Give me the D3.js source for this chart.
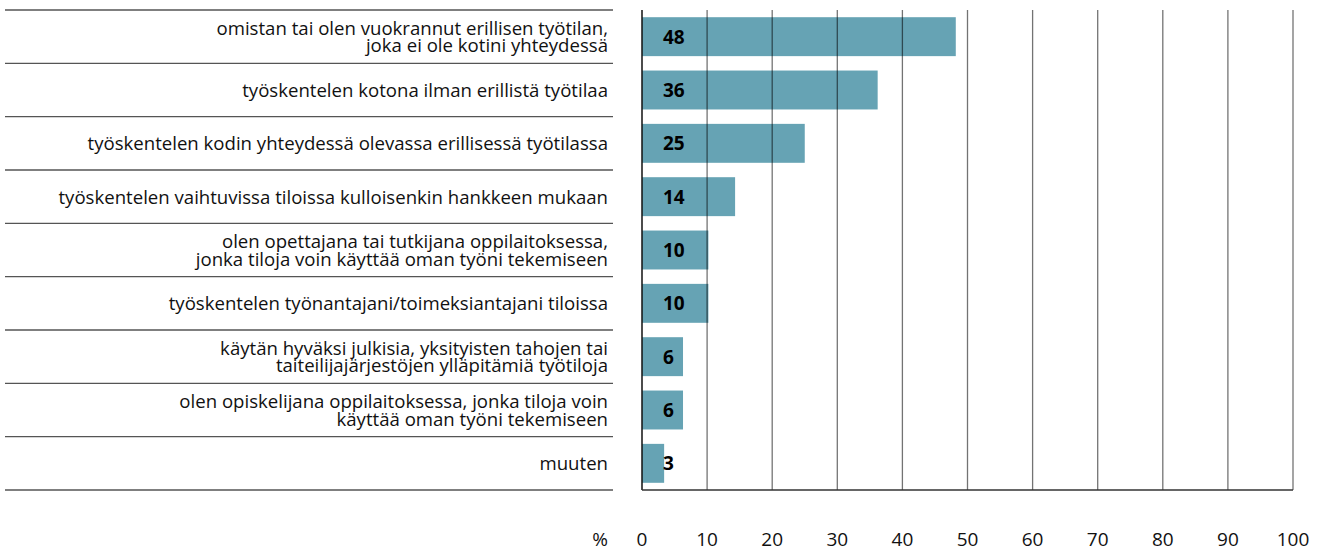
<!DOCTYPE html>
<html>
<head>
<meta charset="utf-8">
<script src="https://cdn.jsdelivr.net/npm/d3@7"></script>
<style>
  body { margin: 0; background: #fff; }
  svg { display: block; font-family: "Open Sans", sans-serif; }
</style>
</head>
<body>
<svg id="chart"></svg>
<script>
// Data
const categories = [
    ['omistan tai olen vuokrannut erillisen työtilan,', 'joka ei ole kotini yhteydessä'],
    ['työskentelen kotona ilman erillistä työtilaa'],
    ['työskentelen kodin yhteydessä olevassa erillisessä työtilassa'],
    ['työskentelen vaihtuvissa tiloissa kulloisenkin hankkeen mukaan'],
    ['olen opettajana tai tutkijana oppilaitoksessa,', 'jonka tiloja voin käyttää oman työni tekemiseen'],
    ['työskentelen työnantajani/toimeksiantajani tiloissa'],
    ['käytän hyväksi julkisia, yksityisten tahojen tai', 'taiteilijajärjestöjen ylläpitämiä työtiloja'],
    ['olen opiskelijana oppilaitoksessa, jonka tiloja voin', 'käyttää oman työni tekemiseen'],
    ['muuten']
];
const values = [48.2, 36.2, 25.0, 14.3, 10.2, 10.2, 6.3, 6.3, 3.4];
const valueLabels = ['48', '36', '25', '14', '10', '10', '6', '6', '3'];
const ticks = [0, 10, 20, 30, 40, 50, 60, 70, 80, 90, 100];

const width = 1326, height = 551;
const svg = d3.select('#chart')
    .attr('width', width)
    .attr('height', height);

const x = d3.scaleLinear()
    .domain([0, 100])
    .range([642, 1293]);

const y = d3.scaleBand()
    .domain(d3.range(categories.length))
    .range([10, 490])
    .paddingInner(0.27)
    .paddingOuter(0.135);

const rowH = (490 - 10) / categories.length;

// Row separators on the label side
svg.append('g')
    .selectAll('line')
    .data(d3.range(categories.length + 1))
    .enter().append('line')
    .attr('x1', 5)
    .attr('x2', 613)
    .attr('y1', i => 10 + i * rowH)
    .attr('y2', i => 10 + i * rowH)
    .attr('stroke', '#555')
    .attr('stroke-width', 1.3);

// Bars
svg.append('g')
    .selectAll('rect')
    .data(values)
    .enter().append('rect')
    .attr('x', x(0))
    .attr('y', (d, i) => y(i))
    .attr('width', d => x(d) - x(0))
    .attr('height', y.bandwidth())
    .attr('fill', '#66a3b4');

// Grid lines drawn over the bars
svg.append('g')
    .selectAll('line')
    .data(ticks.slice(1))
    .enter().append('line')
    .attr('x1', d => x(d))
    .attr('x2', d => x(d))
    .attr('y1', 10)
    .attr('y2', 490)
    .attr('stroke', '#000')
    .attr('stroke-opacity', 0.55)
    .attr('stroke-width', 1.3);

// Axis lines
svg.append('line')
    .attr('x1', x(0)).attr('x2', x(0))
    .attr('y1', 10).attr('y2', 490)
    .attr('stroke', '#111')
    .attr('stroke-width', 1.5);

svg.append('line')
    .attr('x1', x(0)).attr('x2', x(100))
    .attr('y1', 490).attr('y2', 490)
    .attr('stroke', '#333')
    .attr('stroke-width', 1.5);

// Category labels
const labels = svg.append('g')
    .selectAll('text')
    .data(categories)
    .enter().append('text')
    .attr('text-anchor', 'end')
    .style('font-size', '18.6px')
    .style('fill', '#111');

labels.each(function(lines, i) {
    const cy = y(i) + y.bandwidth() / 2;
    const lh = 17.5;
    lines.forEach((line, j) => {
        d3.select(this).append('tspan')
            .attr('x', 608)
            .attr('y', cy + 7 + (j - (lines.length - 1) / 2) * lh)
            .text(line);
    });
});

// Value labels
svg.append('g')
    .selectAll('text')
    .data(valueLabels)
    .enter().append('text')
    .attr('x', 663)
    .attr('y', (d, i) => y(i) + y.bandwidth() / 2 + 7)
    .style('font-size', '19px')
    .style('font-weight', 'bold')
    .style('fill', '#000')
    .text(d => d);

// Tick labels
svg.append('g')
    .selectAll('text')
    .data(ticks)
    .enter().append('text')
    .attr('x', d => x(d))
    .attr('y', 546)
    .attr('text-anchor', 'middle')
    .style('font-size', '19px')
    .style('fill', '#111')
    .text(d => d);

svg.append('text')
    .attr('x', 600)
    .attr('y', 546)
    .attr('text-anchor', 'middle')
    .style('font-size', '19px')
    .style('fill', '#111')
    .text('%');
</script>
</body>
</html>
